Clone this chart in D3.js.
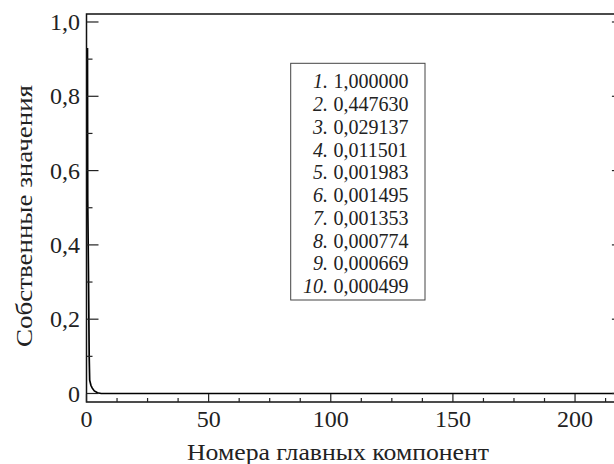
<!DOCTYPE html>
<html>
<head>
<meta charset="utf-8">
<script src="https://cdn.jsdelivr.net/npm/d3@7"></script>
<style>
  html, body { margin: 0; padding: 0; background: #fff; }
  svg { display: block; }
</style>
</head>
<body>
<svg id="chart" width="614" height="464"></svg>
<script>
// eigenvalue curve (component number, value)
const curveX = [0.4, 0.5, 0.8, 1.1, 1.3, 1.8, 2.3, 3.2, 4.5, 6, 220];
const curveY = [0.93, 0.52, 0.33, 0.1, 0.036, 0.022, 0.015, 0.007, 0.002, 0, 0];

const xTicks = [0, 50, 100, 150, 200];
const yTicks = [0, 0.2, 0.4, 0.6, 0.8, 1.0];

const legendIndex = ["1.", "2.", "3.", "4.", "5.", "6.", "7.", "8.", "9.", "10."];
const legendValues = ["1,000000", "0,447630", "0,029137", "0,011501", "0,001983",
  "0,001495", "0,001353", "0,000774", "0,000669", "0,000499"];

const xLabel = "Номера главных компонент";
const yLabel = "Собственные значения";

const serif = '"Liberation Serif"';
const svg = d3.select("#chart");

const x = d3.scaleLinear().domain([0, 220]).range([86.5, 623.9]);
const y = d3.scaleLinear().domain([-0.0229, 1.0215]).range([402, 14]);

const fmt = (d) => (d === 0 ? "0" : d3.format(".1f")(d).replace(".", ","));

// curve
const line = d3.line().x((d, i) => x(curveX[i])).y((d, i) => y(curveY[i]));
svg.append("path")
  .datum(curveY)
  .attr("d", line)
  .attr("fill", "none")
  .attr("stroke", "#000")
  .attr("stroke-width", 1.7);

// frame
const x0 = x(0), x1 = x(220), yTop = y(1.0215), yBot = y(-0.0229);
svg.append("rect")
  .attr("x", x0).attr("y", yTop)
  .attr("width", x1 - x0).attr("height", yBot - yTop)
  .attr("fill", "none").attr("stroke", "#111").attr("stroke-width", 1.5);

// left axis ticks (inward) + right side ticks
const yMinor = d3.range(0.1, 1.0, 0.2);
svg.append("g").selectAll("line").data(yTicks).join("line")
  .attr("x1", x0).attr("x2", x0 + 12)
  .attr("y1", (d) => y(d)).attr("y2", (d) => y(d))
  .attr("stroke", "#222").attr("stroke-width", 1.2);
svg.append("g").selectAll("line").data(yMinor).join("line")
  .attr("x1", x0).attr("x2", x0 + 6)
  .attr("y1", (d) => y(d)).attr("y2", (d) => y(d))
  .attr("stroke", "#222").attr("stroke-width", 1.2);
svg.append("g").selectAll("line").data(yTicks).join("line")
  .attr("x1", x1 - 12).attr("x2", x1)
  .attr("y1", (d) => y(d)).attr("y2", (d) => y(d))
  .attr("stroke", "#222").attr("stroke-width", 1.2);

svg.append("g").selectAll("text").data(yTicks).join("text")
  .attr("x", 80)
  .attr("y", (d) => y(d))
  .attr("dy", "0.34em")
  .attr("text-anchor", "end")
  .style("font-family", serif)
  .style("font-size", "24px")
  .attr("fill", "#222")
  .text(fmt);

// bottom axis ticks
const xMinor = d3.range(0, 221, 12.5).filter((d) => d % 50 !== 0);
svg.append("g").selectAll("line").data(xTicks).join("line")
  .attr("x1", (d) => x(d)).attr("x2", (d) => x(d))
  .attr("y1", yBot).attr("y2", yBot - 8)
  .attr("stroke", "#222").attr("stroke-width", 1.2);
svg.append("g").selectAll("line").data(xMinor).join("line")
  .attr("x1", (d) => x(d)).attr("x2", (d) => x(d))
  .attr("y1", yBot).attr("y2", yBot - 4)
  .attr("stroke", "#222").attr("stroke-width", 1.2);

svg.append("g").selectAll("text").data(xTicks).join("text")
  .attr("x", (d) => x(d))
  .attr("y", 427)
  .attr("text-anchor", "middle")
  .style("font-family", serif)
  .style("font-size", "24px")
  .attr("fill", "#222")
  .text((d) => d);

// axis titles
svg.append("text")
  .attr("x", 338).attr("y", 460)
  .attr("text-anchor", "middle")
  .style("font-family", serif)
  .style("font-size", "24px")
  .attr("textLength", 302)
  .attr("lengthAdjust", "spacingAndGlyphs")
  .attr("fill", "#222")
  .text(xLabel);

svg.append("text")
  .attr("transform", "translate(32,216) rotate(-90)")
  .attr("text-anchor", "middle")
  .style("font-family", serif)
  .style("font-size", "24px")
  .attr("textLength", 262)
  .attr("lengthAdjust", "spacingAndGlyphs")
  .attr("fill", "#222")
  .text(yLabel);

// legend box with eigenvalues
const legend = svg.append("g");
legend.append("rect")
  .attr("x", 290.7).attr("y", 63.3)
  .attr("width", 134.3).attr("height", 236.7)
  .attr("fill", "#fff").attr("stroke", "#444").attr("stroke-width", 1);

const rowY = d3.scaleLinear().domain([0, 9]).range([88.3, 293]);
legend.selectAll("text.idx").data(legendIndex).join("text")
  .attr("class", "idx")
  .attr("x", 328).attr("y", (d, i) => rowY(i))
  .attr("text-anchor", "end")
  .style("font-family", serif)
  .style("font-size", "20px")
  .style("font-style", "italic")
  .attr("fill", "#222")
  .text((d) => d);
legend.selectAll("text.val").data(legendValues).join("text")
  .attr("class", "val")
  .attr("x", 333.5).attr("y", (d, i) => rowY(i))
  .style("font-family", serif)
  .style("font-size", "20px")
  .attr("fill", "#222")
  .text((d) => d);
</script>
</body>
</html>
